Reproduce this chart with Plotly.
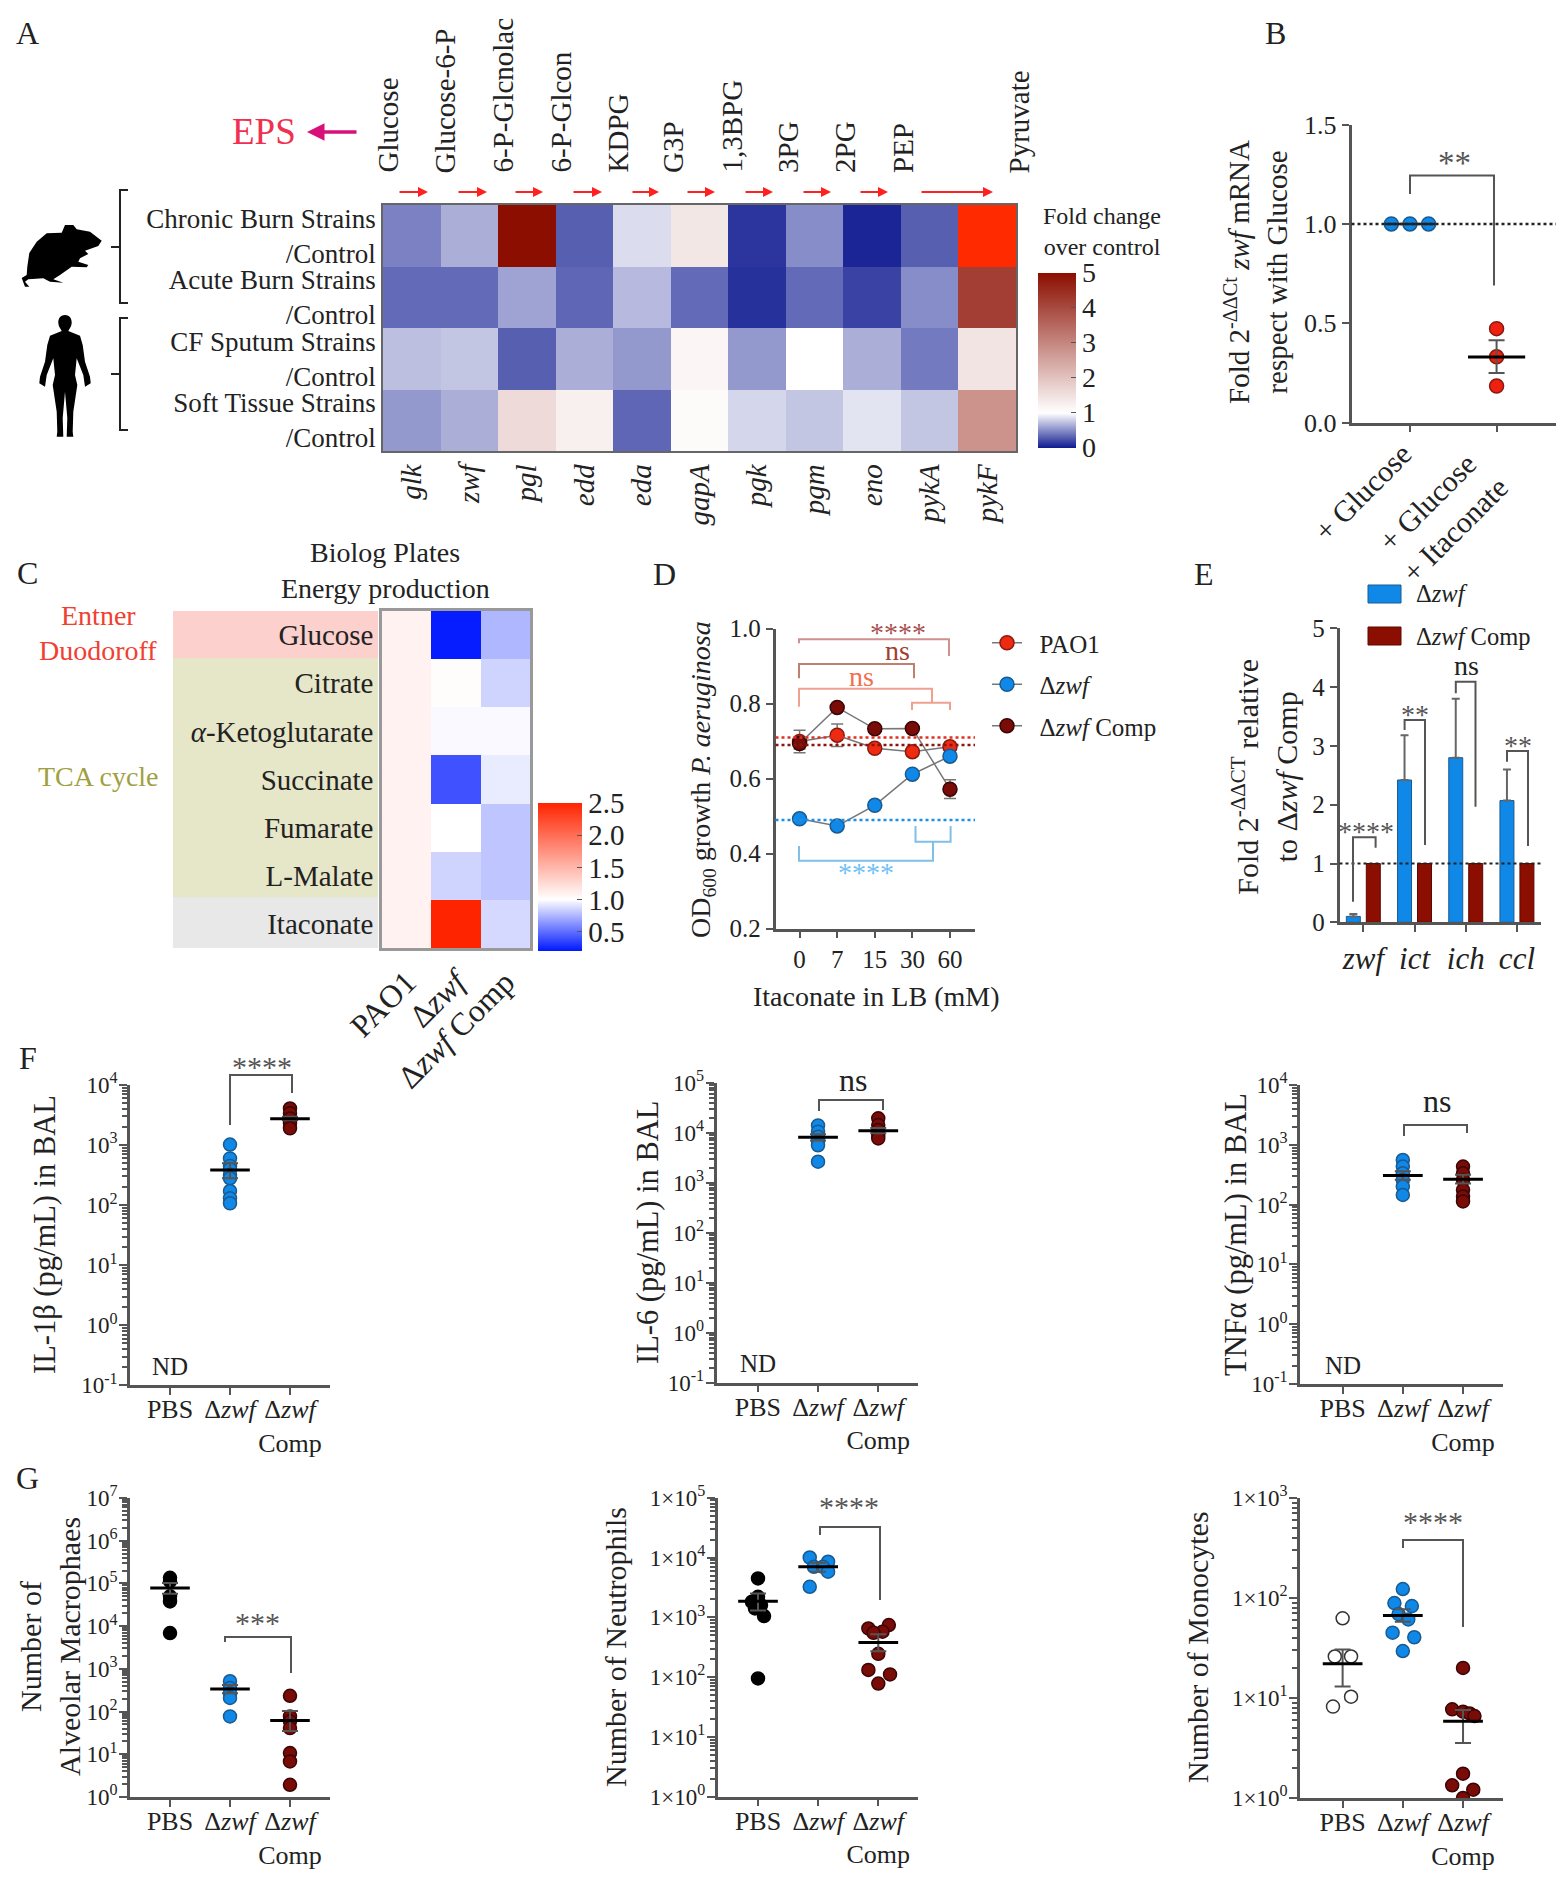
import re
import plotly.graph_objects as go

W, H = 1562, 1883
FONT = "Liberation Serif"
INK = "#222222"
AXIS = "#555555"
BLUE, RED, DARK = "#0f88e8", "#ee2a10", "#7a0c08"

# ---- panel A
a_genes = ["glk", "zwf", "pgl", "edd", "eda", "gapA", "pgk", "pgm", "eno", "pykA", "pykF"]
a_rows = ["Chronic Burn Strains<br>/Control", "Acute Burn Strains<br>/Control",
          "CF Sputum Strains<br>/Control", "Soft Tissue Strains<br>/Control"]
a_chronic = [0.45, 0.65, 5.0, 0.30, 0.85, 1.40, 0.12, 0.50, 0.05, 0.30, None]
a_acute = [0.35, 0.35, 0.60, 0.33, 0.70, 0.35, 0.10, 0.35, 0.18, 0.50, 4.2]
a_cf = [0.72, 0.75, 0.30, 0.65, 0.55, 1.15, 0.55, 1.00, 0.65, 0.42, 1.45]
a_soft = [0.55, 0.65, 1.60, 1.25, 0.33, 1.08, 0.82, 0.75, 0.88, 0.75, 2.8]
a_over = [None] * 10 + [6.0]  # pykF chronic is off the scale, drawn bright red
a_metabolites = ["Glucose", "Glucose-6-P", "6-P-Glcnolac", "6-P-Glcon", "KDPG", "G3P",
                 "1,3BPG", "3PG", "2PG", "PEP", "Pyruvate"]

# ---- panel B
b_glucose = [1.0, 1.0, 1.0]
b_glucose_off = [-0.215, 0.0, 0.215]
b_itaconate = [0.473, 0.331, 0.184]
b_mean, b_hi, b_lo = 0.33, 0.415, 0.25

# ---- panel C
c_rows = ["Glucose", "Citrate", "<i>α</i>-Ketoglutarate", "Succinate", "Fumarate", "L-Malate", "Itaconate"]
c_cols = ["PAO1", "Δ<i>zwf</i>", "Δ<i>zwf</i> Comp"]
c_pao1 = [1.09, 1.09, 1.09, 1.09, 1.09, 1.09, 1.09]
c_zwf = [0.22, 1.02, 0.98, 0.40, 1.00, 0.85, 2.50]
c_comp = [0.75, 0.85, 0.98, 0.93, 0.80, 0.80, 0.87]

# ---- panel D
d_doses = ["0", "7", "15", "30", "60"]
d_pao1 = [0.699, 0.716, 0.681, 0.672, 0.685]
d_pao1_err = [0.030, 0.030, 0.012, 0.012, 0.012]
d_zwf = [0.493, 0.474, 0.529, 0.612, 0.660]
d_zwf_err = [0.006, 0.006, 0.006, 0.006, 0.010]
d_comp = [0.694, 0.790, 0.733, 0.734, 0.572]
d_comp_err = [0.015, 0.008, 0.008, 0.008, 0.025]
d_baselines = [(0.71, "#e03020"), (0.69, "#8a1510"), (0.49, "#1a90e8")]

# ---- panel E
e_genes = ["<i>zwf</i>", "<i>ict</i>", "<i>ich</i>", "<i>ccl</i>"]
e_zwf = [0.10, 2.42, 2.80, 2.07]
e_zwf_err = [0.04, 0.76, 1.00, 0.53]
e_comp = [1.0, 1.0, 1.0, 1.0]

# ---- panels F and G
groups = ["PBS", "Δ<i>zwf</i>", "Δ<i>zwf</i><br>Comp"]
il1_zwf = [1020, 600, 450, 400, 320, 280, 172, 130, 107]
il1_comp = [4070, 3400, 2760, 2300, 1900]
il6_zwf = [14000, 10500, 8300, 6600, 5600, 2630]
il6_comp = [19400, 14200, 11300, 9000, 7700]
tnf_zwf = [558, 432, 335, 259, 200, 145]
tnf_comp = [432, 335, 259, 176, 136, 113]

am_pbs = [135000, 113000, 50000, 38000, 6900]
am_zwf = [513, 357, 270, 208, 77]
am_comp = [234, 77, 59, 41, 10.7, 6.8, 1.93]

neu_pbs = [4470, 2200, 1820, 1600, 1410, 1050, 95]
neu_pbs_off = [0, 0, -0.10, 0.05, -0.05, 0.10, 0]
neu_zwf = [10000, 8500, 7000, 7000, 5800, 3240]
neu_zwf_off = [-0.14, 0.165, -0.07, 0.08, 0.165, -0.14]
neu_comp = [740, 650, 575, 550, 245, 132, 111, 78]
neu_comp_off = [0.175, -0.165, 0.07, -0.08, 0, -0.165, 0.195, 0]

mono_pbs = [62.7, 26, 26, 10.3, 8.2]
mono_pbs_off = [0, -0.13, 0.14, 0.14, -0.16]
mono_zwf = [123, 89, 83, 69, 61, 45, 40.5, 29.5]
mono_zwf_off = [0, -0.14, 0.15, -0.07, 0.09, -0.17, 0.19, 0]
mono_comp = [20, 7.7, 7.3, 7, 6.6, 1.75, 1.34, 1.21, 1.0]
mono_comp_off = [0, -0.18, 0, 0.11, 0.19, 0, -0.18, 0.17, 0]


def px(x):
    return x / W


def py(y):
    return 1 - y / H


def path(d):
    # pixel path -> paper path
    return re.sub(r"(-?[\d.]+),(-?[\d.]+)", lambda m: f"{px(float(m[1])):.5f},{py(float(m[2])):.5f}", d)


fig = go.Figure()
layout = {}
shapes = []
notes = []


def note(x, y, text, size=27, color=INK, angle=0, xanchor="center", yanchor="middle"):
    notes.append(dict(x=px(x), y=py(y), xref="paper", yref="paper", text=text, showarrow=False,
                      textangle=angle, xanchor=xanchor, yanchor=yanchor,
                      font=dict(family=FONT, size=size, color=color)))


def arrow(x0, x1, y, color, width=2):
    notes.append(dict(x=px(x1), y=py(y), xref="paper", yref="paper", text="", showarrow=True,
                      ax=x0 - x1, ay=0, arrowhead=2, arrowsize=1, arrowwidth=width, arrowcolor=color))


def bracket(d, color=AXIS, width=2):
    shapes.append(dict(type="path", path=path(d), xref="paper", yref="paper",
                       line=dict(color=color, width=width), layer="above"))


def axes(n, x0, x1, ytop, ybot, xax, yax):
    style = dict(showgrid=False, zeroline=False, showline=True, linecolor=AXIS, linewidth=2.5,
                 ticks="outside", tickcolor=AXIS, tickwidth=2, ticklen=7,
                 tickfont=dict(family=FONT, size=25, color=INK))
    layout[f"xaxis{n}"] = {**style, "domain": [px(x0), px(x1)], "anchor": f"y{n}", "tickangle": 0, **xax}
    layout[f"yaxis{n}"] = {**style, "domain": [py(ybot), py(ytop)], "anchor": f"x{n}", **yax}


def dots(n, cat, values, color, edge, off=None, hollow=False, size=13):
    xs = [cat + (off[i] if off else 0) for i in range(len(values))]
    fig.add_trace(go.Scatter(x=xs, y=values, xaxis=f"x{n}", yaxis=f"y{n}", mode="markers", showlegend=False,
                             marker=dict(size=size, color="white" if hollow else color,
                                         line=dict(color=edge, width=1.5))))


def mean_bar(n, cat, mean, lo, hi, halfwidth=0.33):
    fig.add_trace(go.Scatter(x=[cat], y=[mean], xaxis=f"x{n}", yaxis=f"y{n}", mode="markers", showlegend=False,
                             marker=dict(size=1, color="black", opacity=0),
                             error_y=dict(type="data", symmetric=False, array=[hi - mean], arrayminus=[mean - lo],
                                          color=AXIS, thickness=2, width=8),
                             error_x=dict(type="data", array=[halfwidth], color="black", thickness=3, width=0)))


def log_axes(n, x0, x1, ytop, ybot, low, high, cat_left, cat_right, labels):
    decades = list(range(low, high + 1))
    minor = [m * 10.0 ** k for k in decades[:-1] for m in range(2, 10)]
    axes(n, x0, x1, ytop, ybot,
         dict(range=[cat_left, cat_right], tickvals=[0, 1, 2], ticktext=groups, ticklabelstandoff=-8,
              tickfont=dict(family=FONT, size=26, color=INK)),
         dict(type="log", range=[low, high], tickvals=[10.0 ** k for k in decades], ticktext=labels(decades),
              tickfont=dict(family=FONT, size=23, color=INK), ticklen=8, ticklabelstandoff=-3,
              minor=dict(ticks="outside", tickmode="array", tickvals=minor, ticklen=5, tickcolor=AXIS, tickwidth=1.5)))


def powers(decades):
    return [f"10<sup>{k}</sup>" for k in decades]


def times_powers(decades):
    return [f"1×10<sup>{k}</sup>" for k in decades]


# ---------------- A
A_SCALE = [[0, "#0f1a90"], [0.2, "#ffffff"], [1, "#8b0e00"]]
axes(1, 383, 1016, 205, 451,
     dict(range=[-0.5, 10.5], tickvals=list(range(11)), ticktext=[f"<i>{g}</i>" for g in a_genes], tickangle=-90,
          ticks="", mirror=True, linewidth=1.5, linecolor="#666666", tickfont=dict(family=FONT, size=29, color=INK)),
     dict(range=[3.5, -0.5], tickvals=[0, 1, 2, 3], ticktext=a_rows, ticks="", mirror=True, linewidth=1.5,
          linecolor="#666666", tickfont=dict(family=FONT, size=27, color=INK)))
fig.add_trace(go.Heatmap(z=[a_chronic, a_acute, a_cf, a_soft], xaxis="x1", yaxis="y1", zmin=0, zmax=5,
                         colorscale=A_SCALE,
                         colorbar=dict(x=px(1038), xanchor="left", xpad=0, y=py(360), yanchor="middle", ypad=0,
                                       lenmode="pixels", len=175, thicknessmode="pixels", thickness=38,
                                       tickvals=[0, 1, 2, 3, 4, 5], ticks="inside", ticklen=5, tickcolor=AXIS,
                                       outlinewidth=0, tickfont=dict(family=FONT, size=28, color=INK))))
fig.add_trace(go.Heatmap(z=[a_over, [None] * 11, [None] * 11, [None] * 11], xaxis="x1", yaxis="y1", showscale=False,
                         colorscale=[[0, "#ff2a00"], [1, "#ff2a00"]]))
a_label_x = [388, 445, 503, 561, 618, 673, 732, 788, 845, 903, 1019]
for x_, label in zip(a_label_x, a_metabolites):
    note(x_, 175, label, size=29, angle=-90, yanchor="bottom")
for x0, x1 in [(398, 428), (457, 487), (514, 543), (572, 602), (631, 659), (686, 715), (744, 773),
               (802, 831), (859, 888), (920, 993)]:
    arrow(x0, x1, 192, "#ff2020")
note(264, 132, "EPS", size=37, color="#f03050")
arrow(358, 307, 132, "#d8107a", width=3.5)
note(1102, 231, "Fold change<br>over control", size=24)
bracket("M128,190 L120,190 L120,303 L128,303 M111,247 L120,247", color="#222222")
bracket("M128,318 L120,318 L120,430 L128,430 M111,374 L120,374", color="#222222")
shapes.append(dict(type="path", xref="paper", yref="paper", fillcolor="black", line=dict(width=0), path=path(
    "M25,286.7 L21.7,278 L26.7,275 L27.3,266.7 L29.3,253 L36.7,241.7 L46.7,233.3 L61.7,232.7 L65,225 L73.3,225 "
    "L76.7,229.3 L90,231.7 L101.7,240.7 L98.3,246 L85,250.7 L88.3,254 L80,258.3 L78.3,261.7 L88.3,265 L86.7,267.3 "
    "L71.7,266.7 L60,275 L53.3,279.3 L63.3,282.7 L50,281.7 L43.3,278.3 L28.3,279.3 L25,281.7 L29.3,286.7 Z")))
shapes.append(dict(type="path", xref="paper", yref="paper", fillcolor="black", line=dict(width=0), path=path(
    "M65,315 C69,315 72,318 71.7,323 C71.5,327 69,329 68.3,331 L80,335.7 L82.7,345 L85,361.7 L90,376.7 L90.7,383.3 "
    "L85,386.7 L83.3,375 L76.7,358.3 L75,375 L77.3,385 L73.3,411.7 L72.7,431.7 L73.3,436.7 L66.7,436.7 L67.3,418 "
    "L65,391.7 L62.7,418 L63.3,436.7 L56.7,436.7 L57.3,431.7 L56.7,411.7 L52.7,385 L55,375 L53.3,358.3 L46.7,375 "
    "L45,386.7 L39.3,383.3 L40,376.7 L45,361.7 L47.3,345 L50,335.7 L61.7,331 C61,329 58.5,327 58.3,323 "
    "C58,318 61,315 65,315 Z")))

# ---------------- B
axes(2, 1351.5, 1556, 124.6, 422.6,
     dict(range=[-0.675, 1.686], tickvals=[0, 1], showticklabels=False),
     dict(range=[0, 1.5], tickvals=[0, 0.5, 1.0, 1.5], ticktext=["0.0", "0.5", "1.0", "1.5"],
          tickfont=dict(family=FONT, size=26, color=INK)))
shapes.append(dict(type="line", xref="x2 domain", yref="y2", x0=0, x1=1, y0=1, y1=1,
                   line=dict(color="#222222", width=2.5, dash="dot")))
dots(2, 0, b_glucose, BLUE, "#1a5a90", off=b_glucose_off, size=14)
fig.add_trace(go.Scatter(x=[0], y=[1], xaxis="x2", yaxis="y2", mode="markers", showlegend=False,
                         marker=dict(size=1, opacity=0),
                         error_x=dict(type="data", array=[0.29], color="#222222", thickness=2.5, width=0)))
dots(2, 1, b_itaconate, "#f02010", "#8a1a10", size=14)
mean_bar(2, 1, b_mean, b_lo, b_hi)
bracket("M1410,194 L1410,175.5 L1494,175.5 L1494,285.5")
note(1454, 163, "**", size=33, color=AXIS)
note(1256, 272, "Fold 2<sup>-ΔΔCt</sup> <i>zwf</i> mRNA<br>respect with Glucose", size=29, angle=-90)
note(1362, 492, "+ Glucose", size=30, angle=-45)
note(1441, 516, "+ Glucose<br>+ Itaconate", size=30, angle=-45)

# ---------------- C
C_SCALE = [[0, "#0018ff"], [0.348, "#ffffff"], [1, "#ff2400"]]
for y0, y1, tint in [(611, 658, "#fbd0cd"), (658, 897, "#e6e6c8"), (897, 948, "#e8e8e8")]:
    shapes.append(dict(type="rect", xref="paper", yref="paper", x0=px(173), x1=px(378), y0=py(y0), y1=py(y1),
                       fillcolor=tint, line=dict(width=0), layer="below"))
axes(3, 382, 530, 611, 948,
     dict(range=[-0.5, 2.5], tickvals=[0, 1, 2], ticktext=c_cols, tickangle=-45, ticks="", mirror=True, linewidth=2.5,
          linecolor="#999999", tickfont=dict(family=FONT, size=32, color=INK)),
     dict(range=[6.5, -0.5], tickvals=list(range(7)), ticktext=c_rows, ticks="", mirror=True, linewidth=2.5,
          linecolor="#999999", tickfont=dict(family=FONT, size=29, color=INK)))
fig.add_trace(go.Heatmap(z=[list(r) for r in zip(c_pao1, c_zwf, c_comp)], xaxis="x3", yaxis="y3",
                         zmin=0.2, zmax=2.5, colorscale=C_SCALE,
                         colorbar=dict(x=px(538), xanchor="left", xpad=0, y=py(877), yanchor="middle", ypad=0,
                                       lenmode="pixels", len=148, thicknessmode="pixels", thickness=44,
                                       tickvals=[0.5, 1.0, 1.5, 2.0, 2.5], ticktext=["0.5", "1.0", "1.5", "2.0", "2.5"],
                                       ticks="inside", ticklen=5, tickcolor=AXIS, outlinewidth=0,
                                       tickfont=dict(family=FONT, size=29, color=INK))))
note(385, 553, "Biolog Plates", size=28)
note(385, 588, "Energy production", size=28)
note(98, 616, "Entner", size=28, color="#f04030")
note(98, 650, "Duodoroff", size=28, color="#f04030")
note(98, 776, "TCA cycle", size=28, color="#a0a040")

# ---------------- D
axes(4, 775.5, 975, 628.7, 928.7,
     dict(range=[-0.64, 4.665], tickvals=[0, 1, 2, 3, 4], ticktext=d_doses),
     dict(range=[0.2, 1.0], tickvals=[0.2, 0.4, 0.6, 0.8, 1.0], ticktext=["0.2", "0.4", "0.6", "0.8", "1.0"]))
for level, tone in d_baselines:
    shapes.append(dict(type="line", xref="x4 domain", yref="y4", x0=0, x1=1, y0=level, y1=level,
                       line=dict(color=tone, width=2.5, dash="dot")))
for name, values, err, fill, edge in [("\u00a0\u00a0PAO1", d_pao1, d_pao1_err, RED, "#8a1a10"),
                                      ("\u00a0\u00a0Δ<i>zwf</i>", d_zwf, d_zwf_err, BLUE, "#1a5a90"),
                                      ("\u00a0\u00a0Δ<i>zwf</i> Comp", d_comp, d_comp_err, DARK, "#3a0505")]:
    fig.add_trace(go.Scatter(x=list(range(5)), y=values, xaxis="x4", yaxis="y4", mode="lines+markers", name=name,
                             legendgroup=name, line=dict(color="#777777", width=1.5),
                             marker=dict(size=14, color=fill, line=dict(color=edge, width=1.5)),
                             error_y=dict(type="data", array=err, color="#777777", thickness=1.5, width=6)))
D_RED_1, D_RED_2, D_RED_3, D_BLUE = "#d09090", "#c08070", "#f0a090", "#80c0e8"
bracket("M799,643.3 L799,639.3 L949,639.3 L949,656", color=D_RED_1)
bracket("M799,678.3 L799,664 L914,664 L914,678.3", color=D_RED_2)
bracket("M799,706.7 L799,688.7 L932,688.7 L932,702.7 M912,710 L912,702.7 L950,702.7 L950,710", color=D_RED_3)
bracket("M799,846 L799,860.7 L933,860.7 L933,841.7 M915.5,826 L915.5,841.7 L950.6,841.7 L950.6,826", color=D_BLUE)
note(898, 632, "****", size=28, color="#a85050")
note(898, 650, "ns", size=28, color="#a04030")
note(861, 676, "ns", size=28, color="#f07050")
note(866, 873, "****", size=28, color="#70c0f8")
note(702, 780, "OD<sub>600</sub> growth <i>P. aeruginosa</i>", size=28, angle=-90)
note(876, 996, "Itaconate in LB (mM)", size=28)

# ---------------- E
axes(5, 1339.5, 1541, 628.3, 922.3,
     dict(range=[-0.465, 3.47], tickvals=[0, 1, 2, 3], ticktext=e_genes, tickfont=dict(family=FONT, size=31, color=INK)),
     dict(range=[0, 5], tickvals=[0, 1, 2, 3, 4, 5]))
fig.add_trace(go.Bar(x=list(range(4)), y=e_zwf, xaxis="x5", yaxis="y5", showlegend=False,
                     marker=dict(color=BLUE, line=dict(color="#1a5a90", width=1)),
                     error_y=dict(type="data", symmetric=False, array=e_zwf_err, arrayminus=[0, 0, 0, 0],
                                  color="#666666", thickness=2, width=4)))
fig.add_trace(go.Bar(x=list(range(4)), y=e_comp, xaxis="x5", yaxis="y5", showlegend=False,
                     marker=dict(color="#8b0e00", line=dict(color="#5a0800", width=1))))
shapes.append(dict(type="line", xref="x5 domain", yref="y5", x0=0, x1=1, y0=1, y1=1, layer="above",
                   line=dict(color="#222222", width=2, dash="dot")))
bracket("M1353,901.7 L1353,837.3 L1375.6,837.3 L1375.6,847.7")
bracket("M1404.6,730 L1404.6,720 L1425,720 L1425,845")
bracket("M1455.8,693.3 L1455.8,681.7 L1475.5,681.7 L1475.5,806.7")
bracket("M1507,761.7 L1507,751 L1528,751 L1528,846")
note(1366, 831, "****", size=28, color=AXIS)
note(1415, 714, "**", size=28, color=AXIS)
note(1466, 665, "ns", size=28)
note(1518, 745, "**", size=28, color=AXIS)
for y_, fill, edge, text in [(594, BLUE, "#1a5a90", "Δ<i>zwf</i>"), (636, "#8b0e00", "#5a0800", "Δ<i>zwf</i> Comp")]:
    shapes.append(dict(type="rect", xref="paper", yref="paper", x0=px(1368), x1=px(1401), y0=py(y_ - 9), y1=py(y_ + 9),
                       fillcolor=fill, line=dict(color=edge, width=1)))
    note(1414, y_, text, size=24.5, xanchor="left")
note(1265, 776.7, "Fold 2<sup>-ΔΔCT</sup> relative<br>to Δ<i>zwf</i> Comp", size=30, angle=-90)

# ---------------- F
log_axes(6, 130, 330, 1085, 1385.3, -1, 4, -0.667, 2.667, powers)
dots(6, 1, il1_zwf, BLUE, "#1a5a90")
dots(6, 2, il1_comp, DARK, "#3a0505")
mean_bar(6, 1, 385, 280, 500)
mean_bar(6, 2, 2750, 2600, 2950)
bracket("M230,1125 L230,1075 L292,1075 L292,1093")
note(262, 1066, "****", size=30, color=AXIS)
note(170, 1366, "ND", size=25)
note(45, 1235, "IL-1β (pg/mL) in BAL", size=30.5, angle=-90)

log_axes(7, 716.5, 918, 1082.7, 1382.7, -1, 5, -0.686, 2.66, powers)
dots(7, 1, il6_zwf, BLUE, "#1a5a90")
dots(7, 2, il6_comp, DARK, "#3a0505")
mean_bar(7, 1, 8070, 7000, 9300)
mean_bar(7, 2, 11000, 9800, 12400)
bracket("M819,1111 L819,1100 L883,1100 L883,1110")
note(853, 1080, "ns", size=32)
note(758, 1363, "ND", size=25)
note(648, 1233, "IL-6 (pg/mL) in BAL", size=30.5, angle=-90)

log_axes(8, 1300, 1503, 1085, 1384, -1, 4, -0.708, 2.664, powers)
dots(8, 1, tnf_zwf, BLUE, "#1a5a90")
dots(8, 2, tnf_comp, DARK, "#3a0505")
mean_bar(8, 1, 306, 260, 360)
mean_bar(8, 2, 266, 225, 315)
bracket("M1404,1136 L1404,1125 L1467,1125 L1467,1133")
note(1437, 1101, "ns", size=32)
note(1342.6, 1365, "ND", size=25)
note(1236, 1235, "TNFα (pg/mL) in BAL", size=30.5, angle=-90)

# ---------------- G
log_axes(9, 130, 330, 1498, 1797, 0, 7, -0.667, 2.667, powers)
dots(9, 0, am_pbs, "black", "black")
mean_bar(9, 0, 78000, 57000, 102000)
dots(9, 1, am_zwf, BLUE, "#1a5a90")
mean_bar(9, 1, 338, 270, 420)
dots(9, 2, am_comp, DARK, "#3a0505")
mean_bar(9, 2, 62, 35, 103)
bracket("M225,1642 L225,1637 L291,1637 L291,1673")
note(257, 1622, "***", size=30, color=AXIS)
note(50, 1647, "Number of<br>Alveolar Macrophaes", size=30, angle=-90)

log_axes(10, 717.7, 918, 1497.7, 1796.7, 0, 5, -0.67, 2.66, times_powers)
dots(10, 0, neu_pbs, "black", "black", off=neu_pbs_off)
mean_bar(10, 0, 1860, 1300, 2500)
dots(10, 1, neu_zwf, BLUE, "#1a5a90", off=neu_zwf_off)
mean_bar(10, 1, 7000, 5800, 8200)
dots(10, 2, neu_comp, DARK, "#3a0505", off=neu_comp_off)
mean_bar(10, 2, 380, 270, 520)
bracket("M820,1535 L820,1527 L880,1527 L880,1600")
note(849, 1506, "****", size=30, color=AXIS)
note(615, 1647, "Number of Neutrophils", size=30, angle=-90)

log_axes(11, 1300, 1503, 1498, 1798, 0, 3, -0.708, 2.664, times_powers)
dots(11, 0, mono_pbs, "white", "#333333", off=mono_pbs_off, hollow=True)
mean_bar(11, 0, 22, 13, 30.6)
dots(11, 1, mono_zwf, BLUE, "#1a5a90", off=mono_zwf_off)
mean_bar(11, 1, 67, 58, 77)
dots(11, 2, mono_comp, DARK, "#3a0505", off=mono_comp_off)
mean_bar(11, 2, 5.86, 3.55, 7.6)
bracket("M1403,1548 L1403,1540 L1463,1540 L1463,1627")
note(1433, 1521, "****", size=30, color=AXIS)
note(1197, 1647, "Number of Monocytes", size=30, angle=-90)

# panel letters
for letter, x_, y_ in [("A", 27, 33), ("B", 1275, 33), ("C", 27, 573), ("D", 664, 574), ("E", 1204, 574),
                       ("F", 28, 1058), ("G", 27, 1478)]:
    note(x_, y_, letter, size=32)

fig.update_layout(width=W, height=H, margin=dict(l=0, r=0, t=0, b=0, autoexpand=False), autosize=False,
                  paper_bgcolor="white", plot_bgcolor="rgba(0,0,0,0)",
                  font=dict(family=FONT, size=25, color=INK), barmode="group", bargap=0.22, bargroupgap=0.3,
                  legend=dict(x=px(987), y=py(620), xanchor="left", yanchor="top", bgcolor="rgba(0,0,0,0)",
                              tracegroupgap=6, itemwidth=30, font=dict(family=FONT, size=25, color=INK)),
                  shapes=shapes, annotations=notes, **layout)
fig.write_html("out.html", post_script="document.body.style.margin='0';", config={"displayModeBar": False})
